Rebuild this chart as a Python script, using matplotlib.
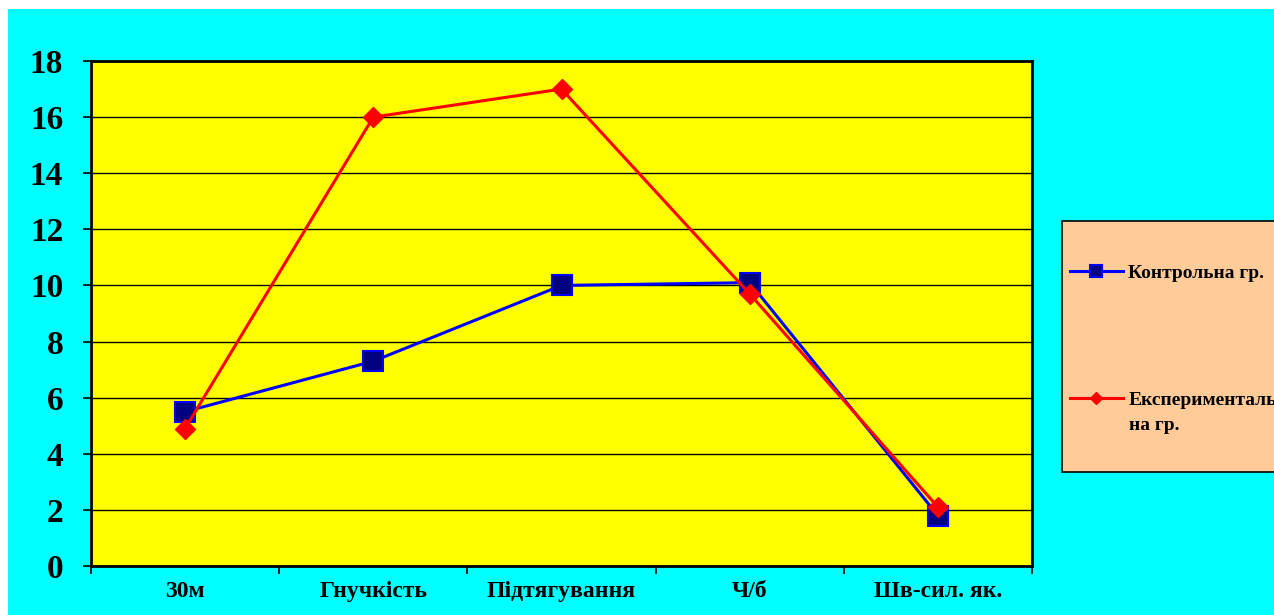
import matplotlib
matplotlib.use("Agg")
import matplotlib.pyplot as plt
from matplotlib.patches import Rectangle
import numpy as np

categories = ["30м", "Гнучкість", "Підтягування", "Ч/б", "Шв-сил. як."]
control = [5.5, 7.3, 10.0, 10.1, 1.8]
experimental = [4.9, 16.0, 17.0, 9.7, 2.1]
series_labels = ["Контрольна гр.", "Експерименталь"]
label_tail = "на гр."
y_ticks = [0, 2, 4, 6, 8, 10, 12, 14, 16, 18]

plt.rcParams["font.family"] = ["Liberation Serif", "DejaVu Serif"]
plt.rcParams["font.weight"] = "bold"

W, H = 1274, 615
fig = plt.figure(figsize=(W / 100, H / 100), dpi=100, facecolor="white")

# cyan chart area background
fig.patches.append(Rectangle((8 / W, 0), 1 - 8 / W, 1 - 9 / H,
                             transform=fig.transFigure, facecolor="#00FFFF",
                             edgecolor="none", zorder=-10))
# legend panel
fig.patches.append(Rectangle((1062 / W, 1 - 472 / H), 240 / W, 251 / H,
                             transform=fig.transFigure, facecolor="#FFCC99",
                             edgecolor="black", lw=1.2, zorder=-5))

ax = fig.add_axes([91 / W, 1 - 566 / H, (1032 - 91) / W, (566 - 61) / H])
ax.set_facecolor("#FFFF00")

x = np.arange(len(categories))
ax.plot(x, control, color="#0000FF", lw=2.2, marker="s", markersize=14,
        markerfacecolor="#000080", markeredgecolor="#0000FF", markeredgewidth=1.5,
        label=series_labels[0], zorder=3)
ax.plot(x, experimental, color="#FF0000", lw=2.2, marker="D", markersize=10,
        markerfacecolor="#FF0000", markeredgecolor="#FF0000",
        label=series_labels[1], zorder=4)

ax.set_xlim(-0.5, len(categories) - 0.5)
ax.set_ylim(0, 18)
ax.set_yticks(y_ticks)
ax.set_yticklabels([str(v) for v in y_ticks], fontsize=24, fontweight="bold")
ax.yaxis.grid(True, color="black", lw=1.0)
ax.set_axisbelow(True)

ax.set_xticks(x)
ax.set_xticklabels(categories, fontsize=17, fontweight="bold")
ax.set_xticks(np.arange(-0.5, len(categories), 1.0), minor=True)
ax.tick_params(axis="x", which="major", length=0, pad=11)
ax.tick_params(axis="x", which="minor", length=6, width=1.2, direction="out")
ax.tick_params(axis="y", length=6, width=1.2, direction="out", pad=14)

for s in ax.spines.values():
    s.set_color("black")
    s.set_linewidth(2)

leg = fig.legend(loc="upper left", bbox_to_anchor=(1070 / W, 1 - 264 / H),
                 bbox_transform=fig.transFigure,
                 prop={"weight": "bold", "size": 14},
                 frameon=False, borderpad=0, borderaxespad=0,
                 handlelength=2.7, handletextpad=0.3,
                 labelspacing=5.65, markerscale=0.65)

# second line of the experimental-group label
leg_tail = fig.text(1129 / W, 1 - 425 / H, label_tail, fontsize=14,
                    fontweight="bold", ha="left", va="center")

fig.savefig("out.png", dpi=100, facecolor="white")
